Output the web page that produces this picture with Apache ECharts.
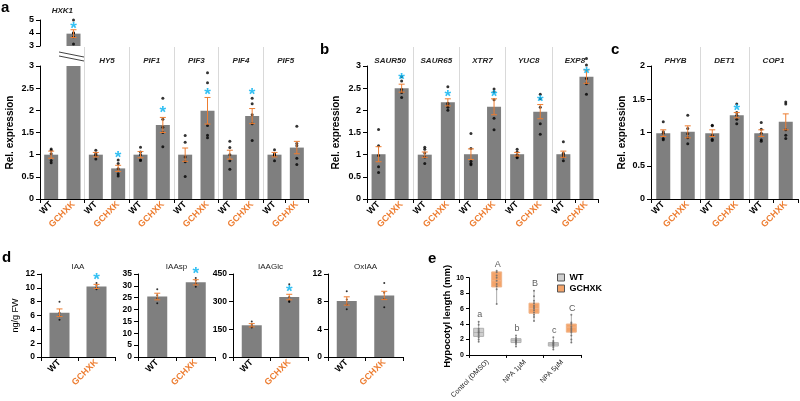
<!DOCTYPE html>
<html>
<head>
<meta charset="utf-8">
<script src="https://cdn.jsdelivr.net/npm/echarts@6/dist/echarts.min.js"></script>
<style>
html, body { margin: 0; padding: 0; background: #fff; }
#main { width: 800px; height: 401px; }
</style>
</head>
<body>
<div id="main"></div>
<script>
const GRAY = '#7f7f7f', ORANGE = '#ed7d31', BLUE = '#00b0f0', DIV = '#d9d9d9';
const FONT = '"Liberation Sans", Arial, sans-serif';

// ---- panel a ----
const aGenes = ['HXK1', 'HY5', 'PIF1', 'PIF3', 'PIF4', 'PIF5'];
const aMean = [1.0, 3.95, 1.0, 0.69, 1.0, 1.67, 1.0, 1.99, 1.0, 1.87, 1.0, 1.16];
const aErr = [0.08, 0.3, 0.05, 0.07, 0.07, 0.17, 0.15, 0.3, 0.1, 0.17, 0.05, 0.14];
const aDots = [
  [1.13, 1.1, 1.02, 0.87, 0.82],
  [5.0, 4.02, 3.98, 3.72, 3.15],
  [1.1, 1.02, 1.0, 0.98, 0.9],
  [0.88, 0.8, 0.68, 0.57, 0.52],
  [1.17, 1.06, 1.0, 0.88, 0.87],
  [2.27, 1.8, 1.62, 1.5, 1.18],
  [1.43, 1.28, 0.95, 0.84, 0.51],
  [2.85, 2.62, 1.66, 1.44, 1.38],
  [1.3, 1.16, 1.0, 0.86, 0.67],
  [2.27, 2.15, 1.9, 1.7, 1.32],
  [1.11, 1.02, 1.0, 0.98, 0.86],
  [1.64, 1.25, 1.2, 0.92, 0.78]
];
const aStar = [null, 4.6, null, 1.0, null, 2.02, null, 2.43, null, 2.42, null, null];
const aScale = [0, 3, 0.5];
const aBreakScale = [3, 5, 1];

// ---- panel b ----
const bGenes = ['SAUR50', 'SAUR65', 'XTR7', 'YUC8', 'EXP8'];
const bMean = [1.01, 2.5, 1.0, 2.18, 1.01, 2.08, 1.01, 1.97, 1.01, 2.76];
const bErr = [0.17, 0.09, 0.06, 0.08, 0.12, 0.18, 0.04, 0.16, 0.07, 0.15];
const bDots = [
  [1.57, 1.2, 0.98, 0.73, 0.6],
  [2.76, 2.66, 2.47, 2.4, 2.29],
  [1.17, 1.12, 1.04, 0.95, 0.8],
  [2.53, 2.16, 2.12, 2.07, 2.0],
  [1.48, 1.14, 0.85, 0.8, 0.77],
  [2.48, 2.42, 2.24, 1.82, 1.56],
  [1.12, 1.06, 0.99, 0.95, 0.93],
  [2.36, 2.26, 2.07, 1.7, 1.46],
  [1.29, 1.03, 1.0, 0.95, 0.86],
  [3.17, 3.02, 2.72, 2.6, 2.36]
];
const bStar = [null, 2.77, null, 2.38, null, 2.38, null, 2.26, null, 2.9];
const bScale = [0, 3, 0.5];

// ---- panel c ----
const cGenes = ['PHYB', 'DET1', 'COP1'];
const cMean = [0.99, 1.01, 0.99, 1.26, 0.99, 1.16];
const cErr = [0.05, 0.09, 0.05, 0.04, 0.05, 0.12];
const cDots = [
  [1.16, 1.01, 0.99, 0.91, 0.89],
  [1.26, 1.06, 0.98, 0.92, 0.83],
  [1.11, 1.1, 0.96, 0.9, 0.88],
  [1.43, 1.3, 1.26, 1.2, 1.13],
  [1.15, 1.05, 0.99, 0.89, 0.87],
  [1.46, 1.43, 1.04, 0.96, 0.91]
];
const cStar = [null, null, null, 1.38, null, null];
const cScale = [0, 2, 0.5];

// ---- panel d ----
const dTitles = ['IAA', 'IAAsp', 'IAAGlc', 'OxIAA'];
const dScales = [[0, 12, 2], [0, 35, 5], [0, 450, 150], [0, 12, 4]];
const dMean = [[6.4, 10.2], [25.5, 31.5], [172, 325], [8.1, 8.9]];
const dErr = [[0.55, 0.3], [1.4, 1.1], [9, 15], [0.6, 0.6]];
const dDots = [
  [[8.0, 6.4, 5.9, 5.4], [10.7, 10.3, 10.0, 9.8]],
  [[28.6, 26.0, 24.8, 22.7], [33.3, 32.3, 31.0, 29.6]],
  [[192, 175, 162, 160], [395, 325, 305, 300, 300]],
  [[9.5, 8.3, 7.6, 6.9], [10.7, 9.3, 8.4, 7.2]]
];
const dStar = [[null, 11.6], [null, 36.5], [null, 374], [null, null]];

// ---- panel e ----
const eCats = ['Control (DMSO)', 'NPA 1µM', 'NPA 5µM'];
// [min, Q1, median, Q3, max]
const eWT = [[1.7, 2.4, 2.9, 3.45, 4.35], [1.05, 1.6, 1.9, 2.1, 2.5], [0.65, 1.15, 1.4, 1.6, 2.25]];
const eGC = [[6.6, 8.8, 9.6, 10.75, 10.85], [4.4, 5.4, 6.0, 6.7, 8.4], [1.55, 2.95, 3.6, 4.0, 5.15]];
const eWTDots = [
  [4.3, 3.9, 3.4, 3.2, 3.0, 2.9, 2.7, 2.5, 2.3, 2.0, 1.7],
  [2.5, 2.2, 2.0, 1.9, 1.8, 1.7, 1.6, 1.4, 1.1],
  [2.3, 1.8, 1.6, 1.5, 1.4, 1.3, 1.2, 1.0, 0.7]
];
const eGCDots = [
  [10.9, 10.7, 10.3, 10.0, 9.6, 9.2, 8.9, 8.5, 6.6],
  [8.3, 7.6, 7.0, 6.7, 6.4, 6.2, 6.0, 5.8, 5.5, 5.2, 4.9, 4.4],
  [5.2, 4.2, 4.0, 3.7, 3.5, 3.3, 3.1, 2.9, 2.5, 2.0, 1.6]
];
const eLetters = [['a', 'b', 'c'], ['A', 'B', 'C']];
const eScale = [0, 10, 2];

const grid = [], xAxis = [], yAxis = [], series = [];

function pairCats(genes) {
  return genes.flatMap(g => [g + ' WT', g + ' GCHXK']);
}

const pairLabel = {
  interval: 0, rotate: 45, margin: 4,
  formatter: v => v.endsWith('GCHXK') ? '{g|GCHXK}' : '{w|WT}',
  rich: {
    w: { color: '#000', fontWeight: 'bold', fontSize: 9, fontFamily: FONT },
    g: { color: ORANGE, fontWeight: 'bold', fontSize: 9, fontFamily: FONT }
  }
};

function valueAxis(gi, scale, extra) {
  return Object.assign({
    gridIndex: gi, type: 'value', min: scale[0], max: scale[1], interval: scale[2],
    axisLine: { show: true, lineStyle: { color: '#000', width: 1 } },
    axisTick: { show: true, length: 4, lineStyle: { color: '#000' } },
    splitLine: { show: false },
    axisLabel: { fontSize: 9, fontWeight: 'bold', color: '#000', fontFamily: FONT, margin: 6 }
  }, extra || {});
}

function errSeries(xi, yi, data, cap) {
  return {
    type: 'custom', xAxisIndex: xi, yAxisIndex: yi, data: data, clip: false, z: 5, silent: true,
    encode: { x: 0, y: [1, 2] },
    renderItem: (params, api) => {
      const lo = api.coord([api.value(0), api.value(1)]);
      const hi = api.coord([api.value(0), api.value(2)]);
      const st = { stroke: ORANGE, lineWidth: 1 };
      return {
        type: 'group', children: [
          { type: 'line', shape: { x1: lo[0], y1: lo[1], x2: hi[0], y2: hi[1] }, style: st },
          { type: 'line', shape: { x1: hi[0] - cap, y1: hi[1], x2: hi[0] + cap, y2: hi[1] }, style: st },
          { type: 'line', shape: { x1: lo[0] - cap, y1: lo[1], x2: lo[0] + cap, y2: lo[1] }, style: st }
        ]
      };
    }
  };
}

function starSeries(xi, yi, data) {
  return {
    type: 'scatter', xAxisIndex: xi, yAxisIndex: yi, data: data, clip: false, z: 6, silent: true,
    symbolSize: 1, itemStyle: { color: 'rgba(0,0,0,0)' },
    label: {
      show: true, position: 'inside', formatter: '*', offset: [0, 4],
      fontSize: 17, fontWeight: 'bold', color: BLUE, fontFamily: FONT
    }
  };
}

function addBars(xi, yi, mean, err, dots, star, keepBar, keepExtra, barW, cap, dotSize) {
  series.push({
    type: 'bar', xAxisIndex: xi, yAxisIndex: yi, barWidth: barW, silent: true,
    data: mean.map((v, i) => keepBar(i) ? v : '-'),
    itemStyle: { color: GRAY }
  });
  series.push(errSeries(xi, yi,
    mean.map((m, i) => [i, m - err[i], m + err[i]]).filter(d => keepExtra(d[0])), cap));
  series.push({
    type: 'scatter', xAxisIndex: xi, yAxisIndex: yi, clip: false, z: 4, silent: true,
    symbolSize: dotSize, itemStyle: { color: '#000' },
    data: dots.flatMap((arr, i) => keepExtra(i) ? arr.map(v => [i, v]) : [])
  });
  series.push(starSeries(xi, yi,
    star.map((v, i) => [i, v]).filter(d => d[1] !== null && keepExtra(d[0]))));
}

// frame grid: group dividers + gene names
function addFrame(labels, left, width, top, height) {
  const gi = grid.push({ left: left, width: width, top: top, height: height }) - 1;
  xAxis.push({
    gridIndex: gi, type: 'category', data: labels, position: 'top',
    axisLine: { show: false }, axisTick: { show: false },
    axisLabel: {
      inside: true, margin: 10, interval: 0, fontSize: 8, fontStyle: 'italic',
      fontWeight: 'bold', color: '#222', fontFamily: FONT
    },
    splitLine: { show: true, showMinLine: false, showMaxLine: false, lineStyle: { color: DIV, width: 1 } }
  });
  yAxis.push({ gridIndex: gi, type: 'value', show: false });
}

function addGenePanel(genes, mean, err, dots, star, scale, left, width, nameGap) {
  addFrame(genes, left, width, 47, 152);
  const gi = grid.push({ left: left, width: width, top: 66, height: 133 }) - 1;
  const xi = xAxis.push({
    gridIndex: gi, type: 'category', data: pairCats(genes),
    axisLine: { lineStyle: { color: '#000' } },
    axisTick: { show: true, interval: 1, length: 4, lineStyle: { color: '#000' } },
    axisLabel: pairLabel
  }) - 1;
  const yi = yAxis.push(valueAxis(gi, scale, {
    name: 'Rel. expression', nameLocation: 'middle', nameGap: nameGap,
    nameTextStyle: { fontSize: 10, fontWeight: 'bold', color: '#000', fontFamily: FONT }
  })) - 1;
  return { xi: xi, yi: yi };
}

// panel a main
const aFrameLabels = aGenes.map((g, i) => i === 0 ? '' : g);
const aMain = addGenePanel(aFrameLabels, aMean, aErr, aDots, aStar, aScale, 40, 268, 25);
xAxis[aMain.xi].data = pairCats(aGenes);
addBars(aMain.xi, aMain.yi, aMean, aErr, aDots, aStar, () => true, i => i !== 1, 14, 3, 3);

// panel a broken top part
{
  const gi = grid.push({ left: 40, width: 268, top: 20, height: 26 }) - 1;
  const xi = xAxis.push({ gridIndex: gi, type: 'category', data: pairCats(aGenes), show: false }) - 1;
  xAxis.push({
    gridIndex: gi, type: 'category', data: aGenes, position: 'top',
    axisLine: { show: false }, axisTick: { show: false },
    axisLabel: {
      interval: 0, margin: 5, fontSize: 8, fontStyle: 'italic', fontWeight: 'bold', color: '#222', fontFamily: FONT,
      formatter: (v, i) => i === 0 ? v : ''
    }
  });
  const yi = yAxis.push(valueAxis(gi, aBreakScale)) - 1;
  addBars(xi, yi, aMean, aErr, aDots, aStar, i => i === 1, i => i === 1, 14, 3, 3);
}

// panel b
const bP = addGenePanel(bGenes, bMean, bErr, bDots, bStar, bScale, 367, 231, 26);
addBars(bP.xi, bP.yi, bMean, bErr, bDots, bStar, () => true, () => true, 14, 3, 3);

// panel c
const cP = addGenePanel(cGenes, cMean, cErr, cDots, cStar, cScale, 651, 147, 24);
addBars(cP.xi, cP.yi, cMean, cErr, cDots, cStar, () => true, () => true, 14, 3, 3);

// panel d
const dLefts = [41, 138, 233, 328];
const dWidths = [74, 77, 75, 75];
const dTitleStyle = [];
dTitles.forEach((t, k) => {
  const gi = grid.push({ left: dLefts[k], width: dWidths[k], top: 274, height: 83 }) - 1;
  const xi = xAxis.push({
    gridIndex: gi, type: 'category', data: ['WT', 'GCHXK'],
    axisLine: { lineStyle: { color: '#000' } },
    axisTick: { show: true, interval: 1, length: 4, lineStyle: { color: '#000' } },
    axisLabel: pairLabel
  }) - 1;
  const extra = k === 0 ? {
    name: 'ng/g FW', nameLocation: 'middle', nameGap: 21,
    nameTextStyle: { fontSize: 9, color: '#000', fontFamily: FONT }
  } : {};
  const yi = yAxis.push(valueAxis(gi, dScales[k], extra)) - 1;
  yAxis[yi].axisLabel.fontSize = 8.5;
  addBars(xi, yi, dMean[k], dErr[k], dDots[k], dStar[k], () => true, () => true, 20, 3, 2);
  dTitleStyle.push({
    text: t, left: dLefts[k] + dWidths[k] / 2, top: 263, textAlign: 'center', padding: 0,
    textStyle: { fontSize: 8, fontWeight: 'normal', color: '#222', fontFamily: FONT }
  });
});

// panel e
{
  const gi = grid.push({ left: 469, width: 112, top: 277.7, height: 79 }) - 1;
  const xi = xAxis.push({
    gridIndex: gi, type: 'category', data: eCats,
    axisLine: { lineStyle: { color: '#000' } },
    axisTick: { show: true, length: 3, lineStyle: { color: '#000' } },
    axisLabel: { interval: 0, rotate: 45, margin: 6, fontSize: 7, color: '#222', fontFamily: FONT }
  }) - 1;
  const yi = yAxis.push(valueAxis(gi, eScale, {
    name: 'Hypocotyl length (mm)', nameLocation: 'middle', nameGap: 15,
    nameTextStyle: { fontSize: 9.5, fontWeight: 'bold', color: '#000', fontFamily: FONT }
  })) - 1;
  yAxis[yi].axisLabel.fontSize = 7;
  yAxis[yi].axisLabel.margin = 5;
  yAxis[yi].axisTick.length = 3;

  const groups = [
    { name: 'WT', box: eWT, dots: eWTDots, letters: eLetters[0], off: -9, fill: '#cfcfcf', stroke: '#b0b0b0' },
    { name: 'GCHXK', box: eGC, dots: eGCDots, letters: eLetters[1], off: 9, fill: '#f4a46a', stroke: '#f0b58a' }
  ];
  groups.forEach(g => {
    series.push({
      type: 'custom', name: g.name, xAxisIndex: xi, yAxisIndex: yi, silent: true,
      itemStyle: { color: g.fill },
      encode: { x: 0, y: [1, 2, 3, 4, 5] },
      data: g.box.map((q, i) => [i].concat(q)),
      renderItem: (params, api) => {
        const p = [1, 2, 3, 4, 5].map(k => api.coord([api.value(0), api.value(k)]));
        const x = p[0][0] + g.off, hw = 5;
        return {
          type: 'group', children: [
            { type: 'line', shape: { x1: x, y1: p[0][1], x2: x, y2: p[4][1] }, style: { stroke: '#aaa', lineWidth: 1 } },
            { type: 'rect', shape: { x: x - hw, y: p[3][1], width: hw * 2, height: p[1][1] - p[3][1] }, style: { fill: g.fill, stroke: g.stroke, lineWidth: 1 } },
            { type: 'line', shape: { x1: x - hw, y1: p[2][1], x2: x + hw, y2: p[2][1] }, style: { stroke: g.stroke, lineWidth: 1 } }
          ]
        };
      }
    });
    series.push({
      type: 'scatter', xAxisIndex: xi, yAxisIndex: yi, clip: false, silent: true, z: 4,
      symbolSize: 2, symbolOffset: [g.off, 0], itemStyle: { color: '#666' },
      data: g.dots.flatMap((arr, i) => arr.map(v => [i, v]))
    });
    series.push({
      type: 'scatter', xAxisIndex: xi, yAxisIndex: yi, clip: false, silent: true, z: 4,
      symbolSize: 1, itemStyle: { color: 'rgba(0,0,0,0)' },
      data: g.box.map((q, i) => ({ value: [i, q[4]], label: { formatter: g.letters[i] } })),
      label: {
        show: true, position: 'top', distance: 2, offset: [g.off + 1, 0],
        fontSize: 9, color: '#333', fontFamily: FONT
      }
    });
  });
}

const panelLetter = (t, left, top) => ({
  text: t, left: left, top: top, padding: 0,
  textStyle: { fontSize: 15, fontWeight: 'bold', color: '#000', fontFamily: FONT }
});

const option = {
  animation: false,
  backgroundColor: '#fff',
  textStyle: { fontFamily: FONT },
  title: [
    panelLetter('a', 1, 0), panelLetter('b', 320, 42), panelLetter('c', 611, 42),
    panelLetter('d', 2, 250), panelLetter('e', 428, 251)
  ].concat(dTitleStyle),
  legend: {
    orient: 'vertical', left: 552, top: 268, itemWidth: 7, itemHeight: 7, itemGap: 2, icon: 'rect',
    data: [
      { name: 'WT', itemStyle: { borderColor: '#555', borderWidth: 1 } },
      { name: 'GCHXK', itemStyle: { borderColor: '#555', borderWidth: 1 } }
    ],
    textStyle: { fontSize: 9, fontWeight: 'bold', color: '#000', fontFamily: FONT }
  },
  grid: grid,
  xAxis: xAxis,
  yAxis: yAxis,
  series: series,
  graphic: [
    { type: 'line', shape: { x1: 59, y1: 52, x2: 84, y2: 57 }, style: { stroke: '#444', lineWidth: 1 } },
    { type: 'line', shape: { x1: 59, y1: 56, x2: 84, y2: 61 }, style: { stroke: '#444', lineWidth: 1 } }
  ]
};

const chart = echarts.init(document.getElementById('main'));
chart.setOption(option);
</script>
</body>
</html>
